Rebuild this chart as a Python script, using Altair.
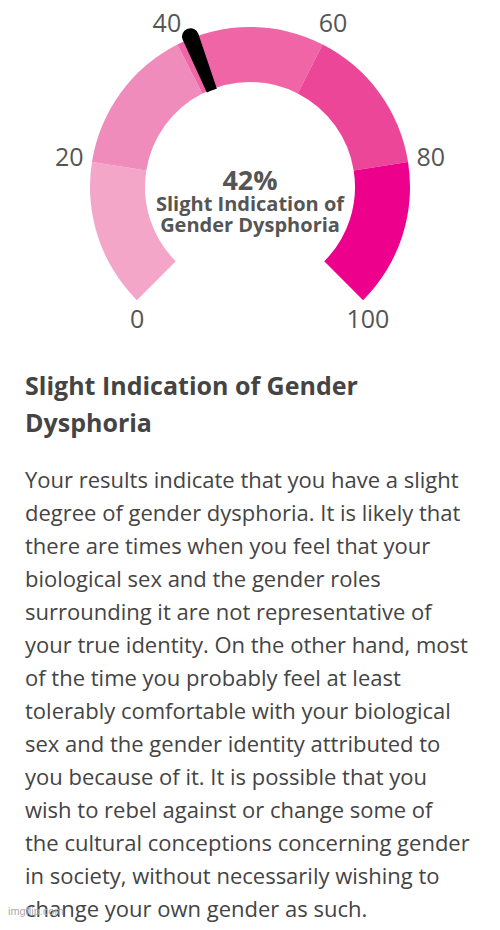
import math
import altair as alt
import pandas as pd

# ---- data ----
seg_names = ["0-20", "20-40", "40-60", "60-80", "80-100"]
seg_start = [0, 20, 40, 60, 80]
seg_end = [20, 40, 60, 80, 100]
seg_colors = ["#f4a6c9", "#f08cbb", "#ef65a6", "#ec4698", "#ec008c"]

tick_values = [0, 20, 40, 60, 80, 100]
tick_labels = ["0", "20", "40", "60", "80", "100"]

score = 42
center_value = "42%"
center_caption = ["Slight Indication of", "Gender Dysphoria"]

title_lines = ["Slight Indication of Gender", "Dysphoria"]
body_lines = [
    "Your results indicate that you have a slight",
    "degree of gender dysphoria. It is likely that",
    "there are times when you feel that your",
    "biological sex and the gender roles",
    "surrounding it are not representative of",
    "your true identity. On the other hand, most",
    "of the time you probably feel at least",
    "tolerably comfortable with your biological",
    "sex and the gender identity attributed to",
    "you because of it. It is possible that you",
    "wish to rebel against or change some of",
    "the cultural conceptions concerning gender",
    "in society, without necessarily wishing to",
    "change your own gender as such.",
]
watermark = "imgflip.com"

# ---- tables ----
seg_df = pd.DataFrame({"seg": seg_names, "start": seg_start, "end": seg_end})
tick_df = pd.DataFrame({"v": tick_values, "label": tick_labels})
score_df = pd.DataFrame({"score": [score]})
cap_df = pd.DataFrame({"row": list(range(len(center_caption))), "t": center_caption})
title_df = pd.DataFrame({"row": list(range(len(title_lines))), "t": title_lines})
body_df = pd.DataFrame({"row": list(range(len(body_lines))), "t": body_lines})
one = pd.DataFrame({"a": [0]})

FONT = "Open Sans"
CX, CY = 242, 179
theta_scale = alt.Scale(domain=[0, 100], range=[-3 * math.pi / 4, 3 * math.pi / 4])
cx = alt.value(CX)
cy = alt.value(CY)

segments = alt.Chart(seg_df).mark_arc(radius=160, radius2=105).encode(
    theta=alt.Theta("start:Q", scale=theta_scale),
    theta2="end:Q",
    color=alt.Color("seg:N", scale=alt.Scale(domain=seg_names, range=seg_colors), legend=None),
    x=cx, y=cy,
)

needle = alt.Chart(score_df).transform_calculate(
    a="datum.score - 1.1", b="datum.score + 1.1"
).mark_arc(radius=170, radius2=96, cornerRadius=8, color="black").encode(
    theta=alt.Theta("a:Q", scale=theta_scale),
    theta2="b:Q",
    x=cx, y=cy,
)

disk = alt.Chart(one).mark_arc(radius=104, radius2=0, theta=0, theta2=2 * math.pi, color="white").encode(
    x=cx, y=cy,
)

ticks_mid = alt.Chart(tick_df).transform_filter(
    "datum.v > 0 && datum.v < 100"
).mark_text(radius=183, fontSize=25, font=FONT, color="#555555").encode(
    theta=alt.Theta("v:Q", scale=theta_scale), text="label:N", x=cx, y=cy,
)
tick_lo = alt.Chart(tick_df).transform_filter("datum.v == 0").mark_text(
    radius=178, fontSize=25, font=FONT, color="#555555", dx=13, dy=7
).encode(theta=alt.Theta("v:Q", scale=theta_scale), text="label:N", x=cx, y=cy)
tick_hi = alt.Chart(tick_df).transform_filter("datum.v == 100").mark_text(
    radius=178, fontSize=25, font=FONT, color="#555555", dx=-8, dy=7
).encode(theta=alt.Theta("v:Q", scale=theta_scale), text="label:N", x=cx, y=cy)

center_val = alt.Chart(one).mark_text(
    text=center_value, fontSize=27, fontWeight="bold", font=FONT, color="#555555",
    baseline="alphabetic", align="center"
).encode(x=cx, y=alt.value(CY + 3))

center_cap = alt.Chart(cap_df).mark_text(
    fontSize=20, fontWeight="bold", font=FONT, color="#555555", baseline="alphabetic", align="center"
).encode(
    x=cx,
    y=alt.Y("row:O", scale=alt.Scale(type="point", range=[203, 224], padding=0), axis=None),
    text="t:N",
)

title = alt.Chart(title_df).mark_text(
    fontSize=25, fontWeight="bold", font=FONT, color="#444444", baseline="alphabetic", align="left"
).encode(
    x=alt.value(17),
    y=alt.Y("row:O", scale=alt.Scale(type="point", range=[387, 424], padding=0), axis=None),
    text="t:N",
)

body = alt.Chart(body_df).mark_text(
    fontSize=22, font=FONT, color="#444444", baseline="alphabetic", align="left"
).encode(
    x=alt.value(17),
    y=alt.Y("row:O", scale=alt.Scale(type="point", range=[480, 909], padding=0), axis=None),
    text="t:N",
)

wm = alt.Chart(one).mark_text(
    text=watermark, fontSize=11, font="Liberation Sans", color="#aaaaaa", align="left", baseline="middle"
).encode(x=alt.value(0), y=alt.value(904))

chart = alt.layer(
    segments, needle, disk, ticks_mid, tick_lo, tick_hi, center_val, center_cap, title, body, wm
).resolve_scale(y="independent").properties(
    width=484, height=914, padding=0, autosize="none", background="white"
).configure_view(stroke=None)

chart.save("out.html", embed_options={"renderer": "svg", "actions": False})
